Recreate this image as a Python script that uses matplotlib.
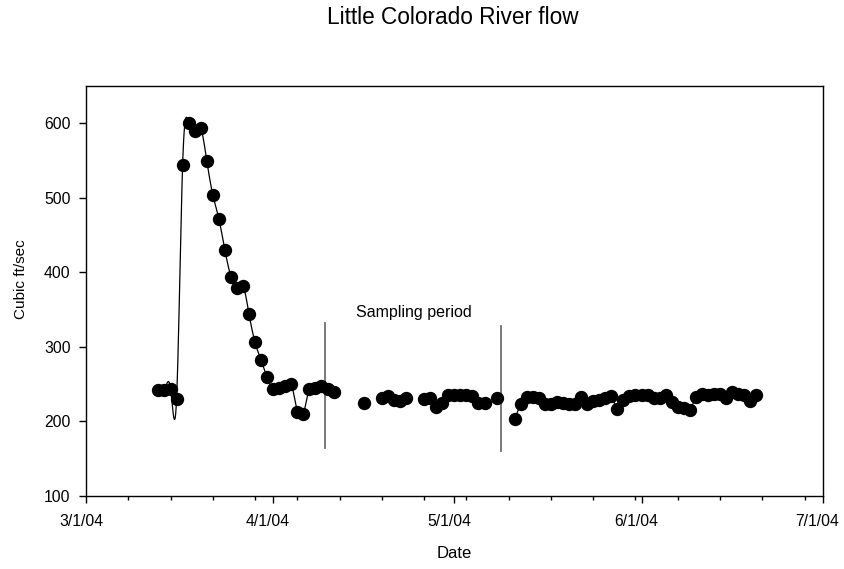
import numpy as np
import pandas as pd
import matplotlib
matplotlib.use("Agg")
import matplotlib.pyplot as plt
import matplotlib.dates as mdates
import matplotlib.transforms as mtransforms
from matplotlib.ticker import FuncFormatter

plt.rcParams["font.family"] = ["Liberation Sans", "DejaVu Sans"]

# Daily discharge, grouped into runs of consecutive days (gaps = missing records)
run_starts = ["2004-03-13", "2004-04-16", "2004-04-19", "2004-04-26", "2004-05-08", "2004-05-11"]
run_flows = [
    [242, 242, 244, 230, 544, 601, 590, 593, 550, 504, 472, 430, 394, 379, 382,
     344, 306, 282, 259, 244, 245, 247, 250, 213, 210, 244, 245, 247, 244, 240],
    [225],
    [231, 234, 229, 228, 231],
    [230, 232, 219, 225, 236, 235, 235, 236, 234, 225, 225],
    [231],
    [203, 223, 233, 233, 231, 224, 224, 226, 225, 223, 223, 233, 224, 228, 229,
     232, 234, 217, 229, 234, 235, 235, 235, 232, 232, 236, 226, 220, 218, 215,
     233, 237, 235, 237, 237, 231, 240, 237, 235, 228, 235],
]

# Sampling period boundaries
sampling_bounds = ["2004-04-09 14:00", "2004-05-08 17:00"]
sampling_lo = [164, 161]
sampling_hi = [332, 328]
sampling_text = "Sampling period"
sampling_text_at = ("2004-04-14 19:00", 346)


def natural_spline(x, y, n_per=20):
    """Natural cubic spline through (x, y), sampled densely."""
    x = np.asarray(x, float)
    y = np.asarray(y, float)
    n = len(x)
    if n < 3:
        return x, y
    h = np.diff(x)
    A = np.zeros((n, n))
    b = np.zeros(n)
    A[0, 0] = A[-1, -1] = 1.0
    for i in range(1, n - 1):
        A[i, i - 1] = h[i - 1]
        A[i, i] = 2 * (h[i - 1] + h[i])
        A[i, i + 1] = h[i]
        b[i] = 6 * ((y[i + 1] - y[i]) / h[i] - (y[i] - y[i - 1]) / h[i - 1])
    M = np.linalg.solve(A, b)
    xs, ys = [], []
    for i in range(n - 1):
        t = np.linspace(x[i], x[i + 1], n_per, endpoint=(i == n - 2))
        a = (x[i + 1] - t) / h[i]
        c = (t - x[i]) / h[i]
        s = (a * y[i] + c * y[i + 1]
             + ((a ** 3 - a) * M[i] + (c ** 3 - c) * M[i + 1]) * h[i] ** 2 / 6)
        xs.append(t)
        ys.append(s)
    return np.concatenate(xs), np.concatenate(ys)


fig = plt.figure(figsize=(8.44, 5.69), dpi=100)
ax = fig.add_axes([0.1019, 0.1283, 0.8728, 0.7206])

for start, flows in zip(run_starts, run_flows):
    days = pd.date_range(start, periods=len(flows), freq="D")
    xnum = mdates.date2num(days.to_pydatetime())
    sx, sy = natural_spline(xnum, flows)
    ax.plot(sx, sy, color="black", lw=0.9, zorder=2)
    ax.plot(xnum, flows, "o", color="black", ms=8.6, zorder=3)

for d, lo, hi in zip(sampling_bounds, sampling_lo, sampling_hi):
    xd = mdates.date2num(pd.Timestamp(d).to_pydatetime())
    ax.plot([xd, xd], [lo, hi], color="#6e6e6e", lw=1.3, zorder=1)

ax.text(mdates.date2num(pd.Timestamp(sampling_text_at[0]).to_pydatetime()),
        sampling_text_at[1], sampling_text, fontsize=11.5, ha="left", va="center")

ax.set_xlim(mdates.date2num(pd.Timestamp("2004-03-01").to_pydatetime()),
            mdates.date2num(pd.Timestamp("2004-07-01").to_pydatetime()))
ax.set_ylim(100, 650)
ax.set_yticks([100, 200, 300, 400, 500, 600])

ax.xaxis.set_major_locator(mdates.MonthLocator())
ax.xaxis.set_minor_locator(mdates.WeekdayLocator(byweekday=mdates.MO))
ax.xaxis.set_major_formatter(FuncFormatter(
    lambda v, p: (lambda d: f"{d.month}/{d.day}/{d:%y}")(mdates.num2date(v))))

for sp in ax.spines.values():
    sp.set_linewidth(1.0)
ax.tick_params(axis="both", which="major", direction="out", length=5, width=1.0,
               labelsize=11.3, pad=6)
ax.tick_params(axis="x", which="minor", direction="out", length=3, width=1.0)
ax.tick_params(axis="x", which="major", pad=8)

# x tick labels sit slightly left of their ticks
shift = mtransforms.ScaledTranslation(-5 / 100, 0, fig.dpi_scale_trans)
for lbl in ax.get_xticklabels():
    lbl.set_transform(lbl.get_transform() + shift)

ax.set_xlabel("Date", fontsize=12, labelpad=12)
ax.set_ylabel("Cubic ft/sec", fontsize=11)
ax.yaxis.set_label_coords(-0.079, 0.53)
fig.text(0.537, 0.97, "Little Colorado River flow", fontsize=16.3,
         ha="center", va="center")

fig.savefig("out.png", dpi=100)
